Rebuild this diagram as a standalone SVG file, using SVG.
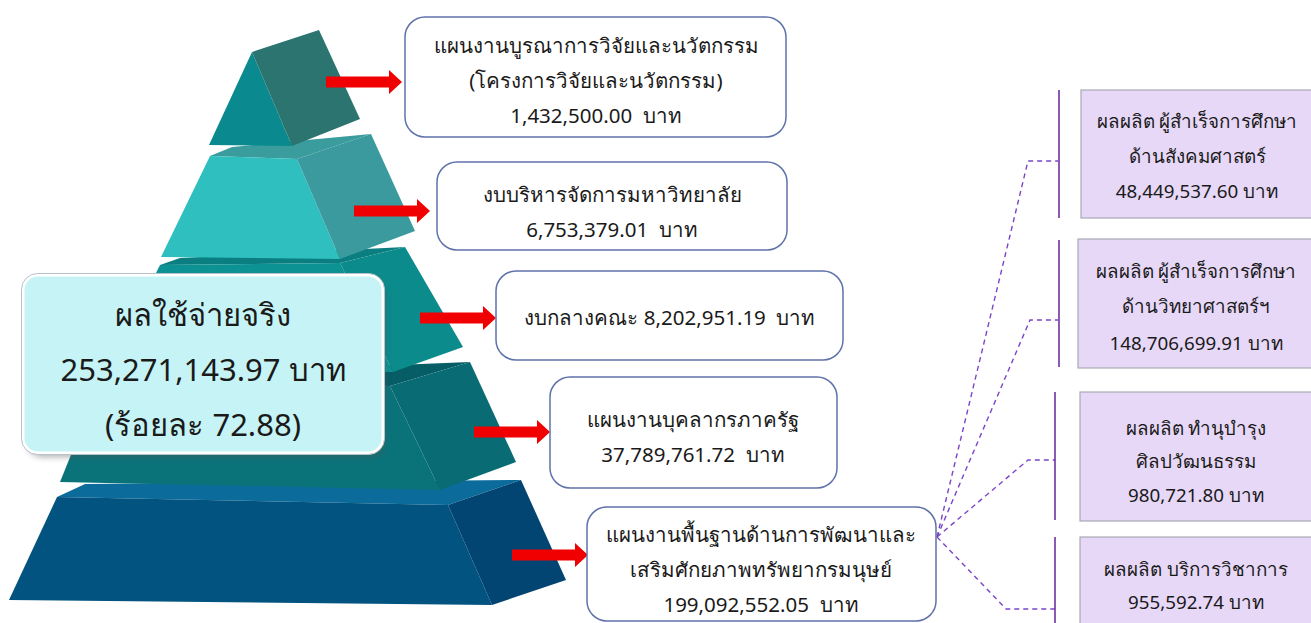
<svg xmlns="http://www.w3.org/2000/svg" width="1311" height="623" viewBox="0 0 1311 623">
<defs>
<style>
text{font-family:"Noto Sans","Liberation Sans",sans-serif;fill:#1a1a1a;text-anchor:middle}
.t21{font-size:20.5px}
.t19{font-size:18.8px}
.t35{font-size:31px}
.box{fill:#ffffff;stroke:#5f72aa;stroke-width:1.5}
.pbox{fill:#e7d8f7;stroke:#a9a9b4;stroke-width:1.2}
.vline{stroke:#7030a0;stroke-width:1.6}
.dash{fill:none;stroke:#7b45c8;stroke-width:1.4;stroke-dasharray:5 4}
.arrow{fill:#f00000}
</style>
<filter id="sh" x="-10%" y="-10%" width="120%" height="130%">
<feGaussianBlur stdDeviation="3"/>
</filter>
<path id="arr" d="M0,-5.5 H63 V-12 L76,0 L63,12 V5.5 H0 Z"/>
</defs>

<g id="pyramid">
<g id="layer5">
<polygon points="57,497 85,484 521,480 448,505" fill="#0b6c9c"/>
<polygon points="57,497 448,505 492,605 9,600" fill="#02537f"/>
<polygon points="448,505 521,480 566,580 492,605" fill="#024573"/>
</g>
<g id="layer4">
<polygon points="100,383 120,376 470,362 390,386" fill="#065d66"/>
<polygon points="100,383 390,386 440,490 60,482" fill="#0a737a"/>
<polygon points="390,386 470,362 516,462 440,490" fill="#096c74"/>
</g>
<g id="layer3">
<polygon points="160,265 180,258 405,247 340,263" fill="#0a7e80"/>
<polygon points="160,265 340,263 393,372 108,370" fill="#0c9292"/>
<polygon points="340,263 405,247 463,347 393,372" fill="#0b8b8c"/>
</g>
<g id="layer2">
<polygon points="210,156 232,147 371,134 297,159" fill="#3a9c9c"/>
<polygon points="210,156 297,159 340,259 161,257" fill="#2ebfbe"/>
<polygon points="297,159 371,134 415,231 340,259" fill="#3a9a9e"/>
</g>
<g id="layer1">
<polygon points="209,145 252,52 292,146" fill="#0a8a8e"/>
<polygon points="252,52 319,30 360,119 292,146" fill="#2b7470"/>
</g>
</g>

<g id="total">
<rect x="27" y="280" width="358" height="177" rx="15" fill="#555" opacity="0.45" filter="url(#sh)"/>
<rect x="23" y="275" width="360" height="178" rx="15" fill="#c6f4f6" stroke="#ffffff" stroke-width="3"/>
<rect x="21.5" y="273.5" width="363" height="181" rx="16" fill="none" stroke="#b9c2c6" stroke-width="1"/>
<text class="t35" x="203" y="326">ผลใช้จ่ายจริง</text>
<text class="t35" x="203" y="381">253,271,143.97 บาท</text>
<text class="t35" x="203" y="436">(ร้อยละ 72.88)</text>
</g>

<g id="connectors">
<use href="#arr" class="arrow" transform="translate(326,82)"/>
<use href="#arr" class="arrow" transform="translate(354,211)"/>
<use href="#arr" class="arrow" transform="translate(420,318)"/>
<use href="#arr" class="arrow" transform="translate(474,432)"/>
<use href="#arr" class="arrow" transform="translate(512,555)"/>
<path class="dash" d="M937,537 L1028,161 H1058"/>
<path class="dash" d="M937,537 L1030,320 H1058"/>
<path class="dash" d="M937,537 L1028,460 H1055"/>
<path class="dash" d="M937,537 L1006,609 H1055"/>
<line class="vline" x1="1059" y1="90" x2="1059" y2="218"/>
<line class="vline" x1="1059" y1="240" x2="1059" y2="367"/>
<line class="vline" x1="1055" y1="392" x2="1055" y2="520"/>
<line class="vline" x1="1055" y1="537" x2="1055" y2="623"/>
</g>

<g id="box1">
<rect class="box" x="405" y="17" width="381" height="120" rx="20"/>
<text class="t21" x="596" y="53">แผนงานบูรณาการวิจัยและนวัตกรรม</text>
<text class="t21" x="596" y="88">(โครงการวิจัยและนวัตกรรม)</text>
<text class="t21" x="596" y="123">1,432,500.00&#160; บาท</text>
</g>
<g id="box2">
<rect class="box" x="437" y="162" width="350" height="88" rx="20"/>
<text class="t21" x="612" y="202">งบบริหารจัดการมหาวิทยาลัย</text>
<text class="t21" x="612" y="237">6,753,379.01&#160; บาท</text>
</g>
<g id="box3">
<rect class="box" x="496" y="271" width="347" height="89" rx="20"/>
<text class="t21" x="670" y="325">งบกลางคณะ 8,202,951.19&#160; บาท</text>
</g>
<g id="box4">
<rect class="box" x="550" y="377" width="287" height="111" rx="20"/>
<text class="t21" x="693" y="427">แผนงานบุคลากรภาครัฐ</text>
<text class="t21" x="693" y="462">37,789,761.72&#160; บาท</text>
</g>
<g id="box5">
<rect class="box" x="587" y="507" width="349" height="114" rx="20"/>
<text class="t21" x="761" y="542">แผนงานพื้นฐานด้านการพัฒนาและ</text>
<text class="t21" x="761" y="577">เสริมศักยภาพทรัพยากรมนุษย์</text>
<text class="t21" x="761" y="612">199,092,552.05&#160; บาท</text>
</g>

<g id="out1">
<rect class="pbox" x="1081" y="90" width="235" height="128"/>
<text class="t19" x="1197" y="128">ผลผลิต ผู้สำเร็จการศึกษา</text>
<text class="t19" x="1197" y="163">ด้านสังคมศาสตร์</text>
<text class="t19" x="1197" y="198">48,449,537.60 บาท</text>
</g>
<g id="out2">
<rect class="pbox" x="1078" y="239" width="238" height="129"/>
<text class="t19" x="1196" y="278">ผลผลิต ผู้สำเร็จการศึกษา</text>
<text class="t19" x="1196" y="313">ด้านวิทยาศาสตร์ฯ</text>
<text class="t19" x="1196" y="350">148,706,699.91 บาท</text>
</g>
<g id="out3">
<rect class="pbox" x="1080" y="392" width="236" height="129"/>
<text class="t19" x="1196" y="435">ผลผลิต ทำนุบำรุง</text>
<text class="t19" x="1196" y="468">ศิลปวัฒนธรรม</text>
<text class="t19" x="1196" y="502">980,721.80 บาท</text>
</g>
<g id="out4">
<rect class="pbox" x="1080" y="537" width="236" height="100"/>
<text class="t19" x="1196" y="576">ผลผลิต บริการวิชาการ</text>
<text class="t19" x="1196" y="609">955,592.74 บาท</text>
</g>
</svg>
